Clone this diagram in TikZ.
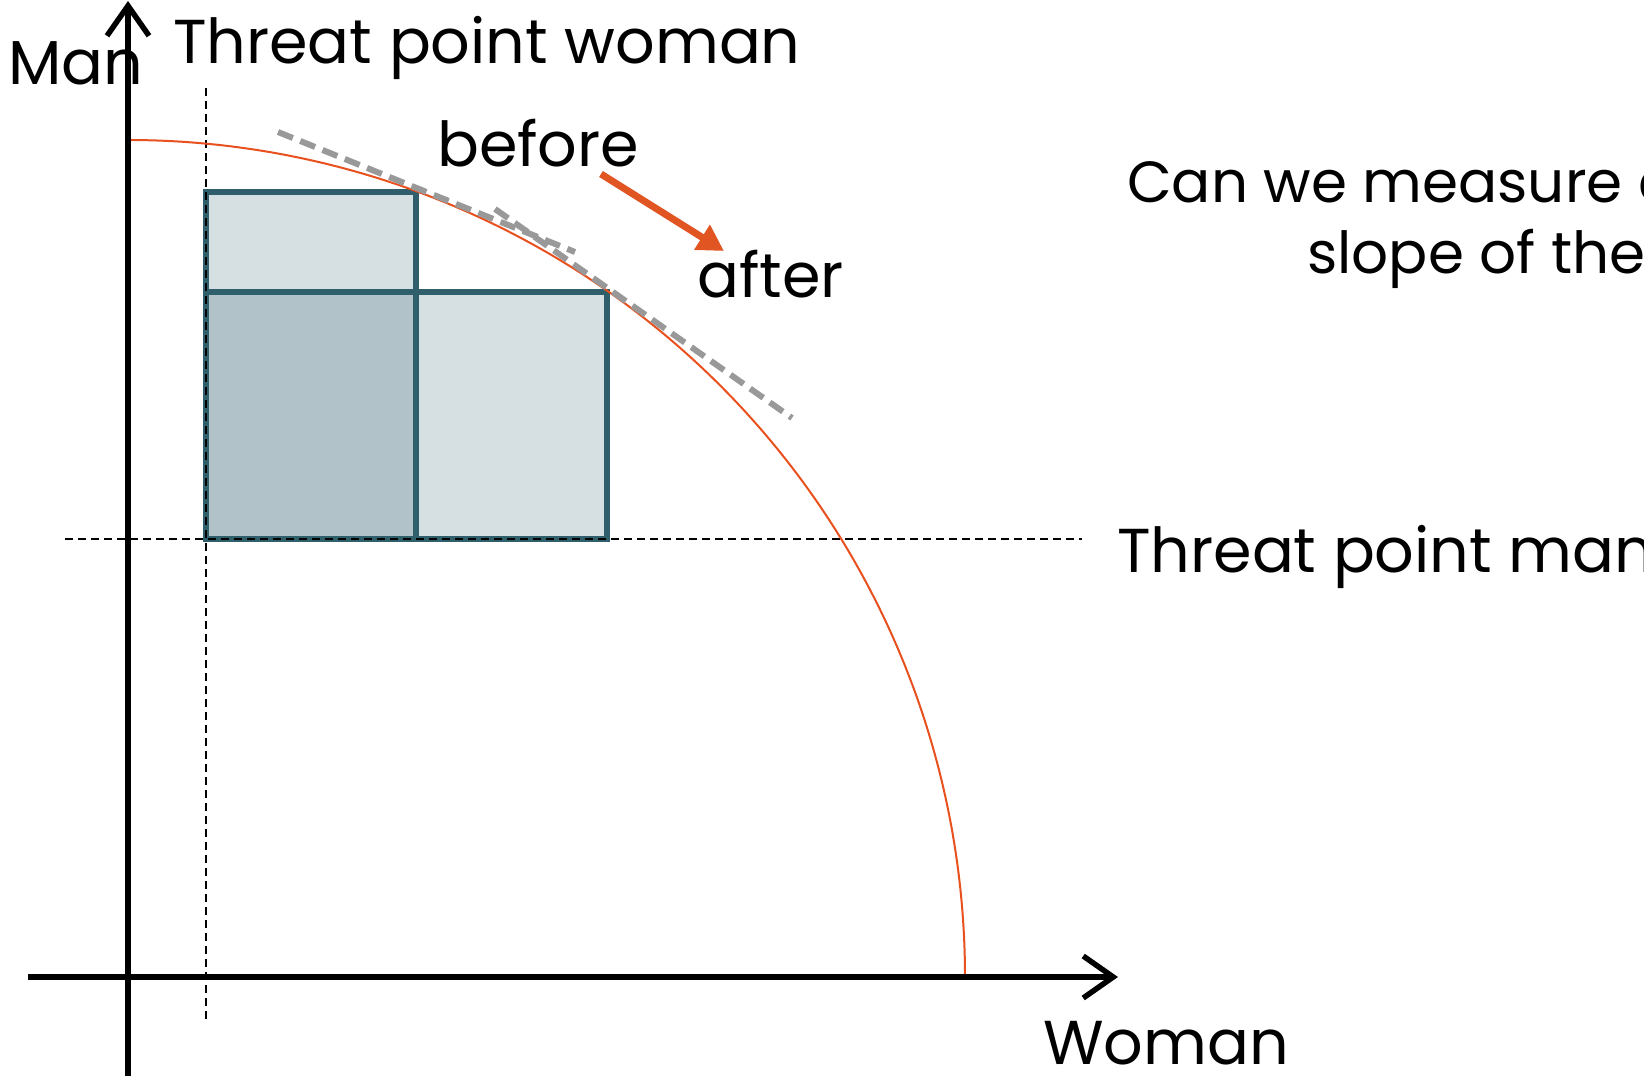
\documentclass[tikz,border=0pt]{standalone}
\usepackage{fontspec}
\setmainfont{Poppins}
\usetikzlibrary{arrows.meta}
\definecolor{teal}{HTML}{2F5F6B}
\definecolor{lightfill}{HTML}{D6DFE2}
\definecolor{darkfill}{HTML}{B1C3C9}
\definecolor{curveor}{HTML}{E8501E}
\definecolor{arrowor}{HTML}{E05522}
\definecolor{tangray}{HTML}{999999}
\tikzset{
  lbl/.style={inner sep=0pt, anchor=base west, font=\fontsize{62}{74}\selectfont},
  qlbl/.style={inner sep=0pt, anchor=base west, font=\fontsize{58}{70}\selectfont},
  axis/.style={line width=5.5pt, -{Straight Barb[length=30pt,width=42pt,line width=5.5pt]}},
  thinDash/.style={line width=2pt, dash pattern=on 8pt off 5pt},
  boxA/.style={draw=teal, line width=6.5pt, fill=lightfill},
  boxB/.style={draw=teal, line width=6.5pt, fill=darkfill},
  tangent/.style={draw=tangray, line width=6pt, dash pattern=on 16pt off 8pt},
}
\begin{document}
\begin{tikzpicture}[x=1pt,y=-1pt]
\useasboundingbox (0,0) rectangle (1644,1076);
% boxes
\draw[boxA] (206,192) rectangle (416,292);
\draw[boxA] (416,292) rectangle (607,539);
\draw[boxB] (206,292) rectangle (416,539);
% dashed guides
\coordinate (vtop) at (206,88);
\coordinate (vbot) at (206,1022);
\coordinate (hl) at (65,539);
\coordinate (hr) at (1082,539);
\draw[thinDash] (vtop) -- (vbot);
\draw[thinDash] (hl) -- (hr);
% frontier (quarter circle about the origin)
\draw[curveor, line width=2pt] plot[smooth, domain=90:0, samples=91] ({128+837*cos(\x)},{977-837*sin(\x)});
% tangents
\coordinate (t1a) at (278,132);
\coordinate (t1b) at (575,252);
\coordinate (t2a) at (495,209);
\coordinate (t2b) at (792,418);
\draw[tangent] (t1a) -- (t1b);
\draw[tangent] (t2a) -- (t2b);
% axes
\coordinate (ybot) at (128,1076);
\coordinate (ytop) at (128,1);
\coordinate (xl) at (28,977);
\coordinate (xr) at (1118,977);
\draw[axis] (ybot) -- (ytop);
\draw[axis] (xl) -- (xr);
% labels
\node[lbl] (man) at (8,84) {Man};
\node[lbl] (tpw) at (173,63) {Threat point woman};
\node[lbl] (before) at (437,166) {before};
\node[lbl] (after) at (697,297) {after};
\node[qlbl] (q1) at (1127,202) {Can we measure c};
\node[qlbl] (q2) at (1307,273) {slope of the};
\node[lbl] (tpm) at (1117,572) {Threat point man};
\node[lbl] (woman) at (1043,1064) {Woman};
% before -> after arrow
\coordinate (ba) at (601,174);
\coordinate (aa) at (724,251);
\draw[arrowor, line width=7pt, -{Triangle[length=26pt,width=28pt]}] (ba) -- (aa);
\end{tikzpicture}
\end{document}
